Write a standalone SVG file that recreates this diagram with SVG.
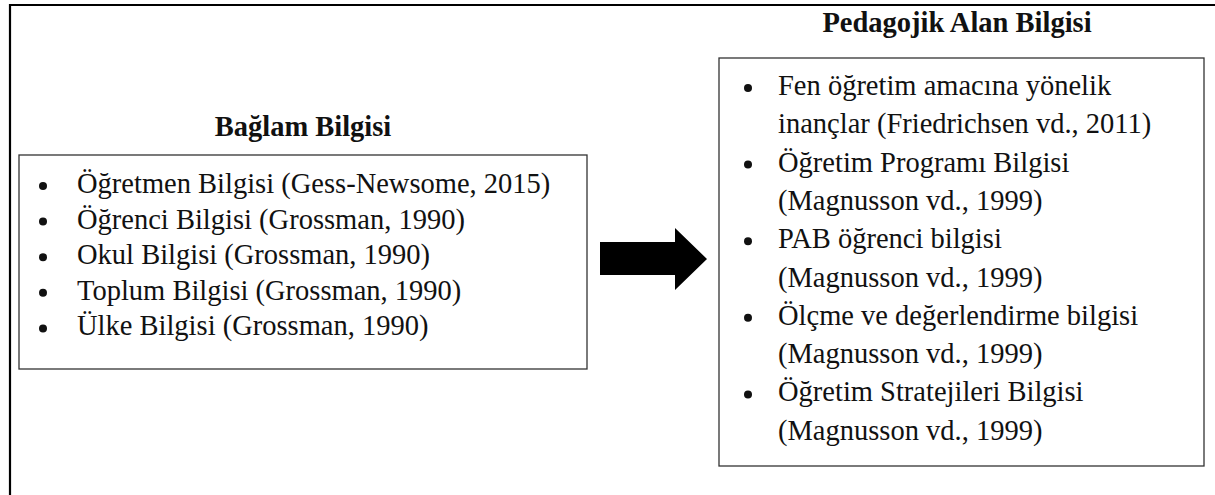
<svg xmlns="http://www.w3.org/2000/svg" width="1215" height="495" viewBox="0 0 1215 495">
<style>
.t{font-family:"Liberation Serif","Times New Roman",serif;font-size:28.5px;fill:#111}
.h{font-family:"Liberation Serif","Times New Roman",serif;font-size:28.5px;font-weight:bold;fill:#111;text-anchor:middle}
.box{fill:#fff;stroke:#333;stroke-width:1.3}
.b{fill:#111}
</style>
<rect width="1215" height="495" fill="#fff"/>
<path d="M10,495 V5 H1215" fill="none" stroke="#000" stroke-width="2.2"/>
<g id="baglam">
<text class="h" x="303" y="136">Bağlam Bilgisi</text>
<rect class="box" x="19" y="155" width="568" height="214"/>
<g class="b">
<circle cx="43" cy="186" r="4"/>
<circle cx="43" cy="221.6" r="4"/>
<circle cx="43" cy="257.2" r="4"/>
<circle cx="43" cy="292.8" r="4"/>
<circle cx="43" cy="328.4" r="4"/>
</g>
<text class="t" x="77" y="193">Öğretmen Bilgisi (Gess-Newsome, 2015)</text>
<text class="t" x="77" y="228.6">Öğrenci Bilgisi (Grossman, 1990)</text>
<text class="t" x="77" y="264.2">Okul Bilgisi (Grossman, 1990)</text>
<text class="t" x="77" y="299.8">Toplum Bilgisi (Grossman, 1990)</text>
<text class="t" x="77" y="335.4">Ülke Bilgisi (Grossman, 1990)</text>
</g>
<g id="pab">
<text class="h" x="957" y="32">Pedagojik Alan Bilgisi</text>
<rect class="box" x="719" y="58" width="485" height="408"/>
<g class="b">
<circle cx="748" cy="88" r="4"/>
<circle cx="748" cy="164.6" r="4"/>
<circle cx="748" cy="241.2" r="4"/>
<circle cx="748" cy="317.8" r="4"/>
<circle cx="748" cy="394.4" r="4"/>
</g>
<text class="t" x="778" y="95">Fen öğretim amacına yönelik</text>
<text class="t" x="778" y="133.3">inançlar (Friedrichsen vd., 2011)</text>
<text class="t" x="778" y="171.6">Öğretim Programı Bilgisi</text>
<text class="t" x="778" y="209.9">(Magnusson vd., 1999)</text>
<text class="t" x="778" y="248.2">PAB öğrenci bilgisi</text>
<text class="t" x="778" y="286.5">(Magnusson vd., 1999)</text>
<text class="t" x="778" y="324.8">Ölçme ve değerlendirme bilgisi</text>
<text class="t" x="778" y="363.1">(Magnusson vd., 1999)</text>
<text class="t" x="778" y="401.4">Öğretim Stratejileri Bilgisi</text>
<text class="t" x="778" y="439.7">(Magnusson vd., 1999)</text>
</g>
<g id="connectors">
<polygon points="600,242 675,242 675,228 707,259 675,290 675,275 600,275" fill="#000"/>
</g>
</svg>
